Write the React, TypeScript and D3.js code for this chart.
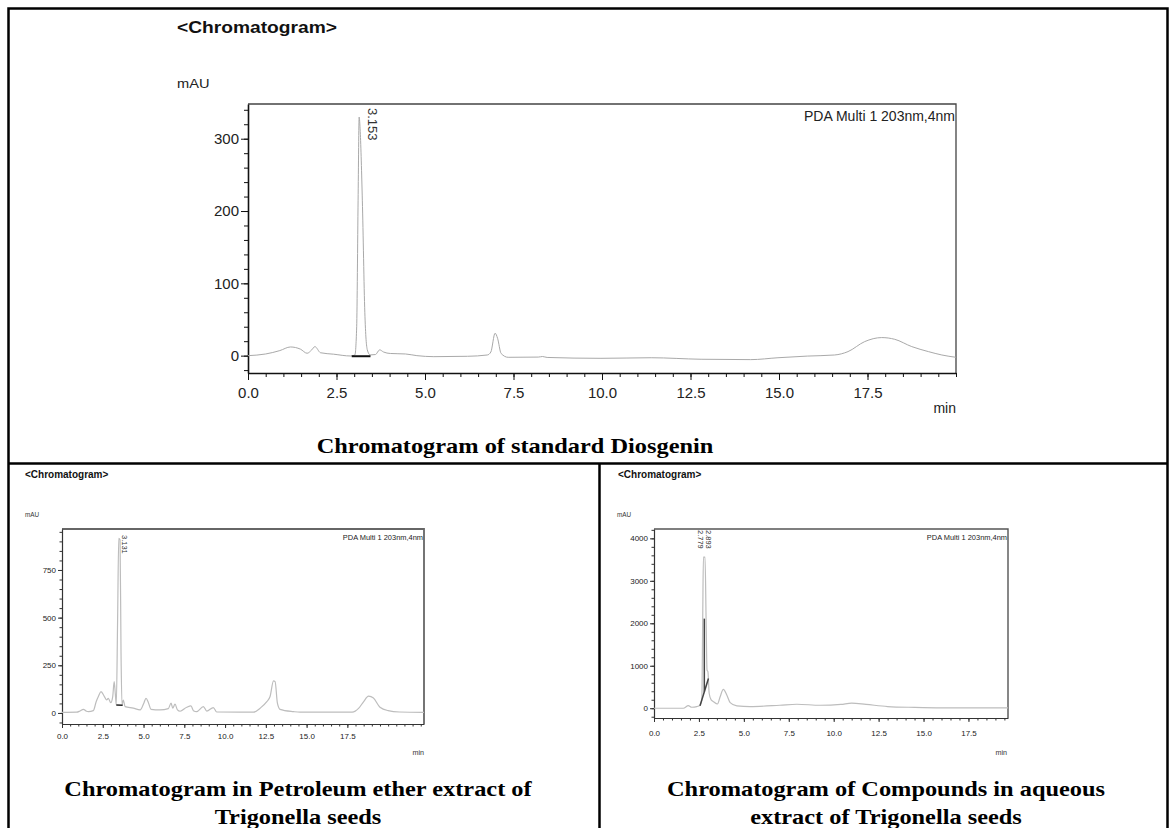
import React, { useRef, useEffect } from 'react';
import * as d3 from 'd3';

type Pt = [number, number];

// retention time (min) vs signal (mAU)
const diosgeninTrace: Pt[] = [
  [0, 0], [0.5, 2.3], [0.9, 7], [1.2, 12], [1.48, 9], [1.67, 3.3], [1.8, 8], [1.89, 12.5],
  [2.05, 4], [2.42, 2], [2.9, -0.5], [3.02, 1], [3.07, 40], [3.11, 215], [3.14, 330],
  [3.17, 310], [3.23, 215], [3.3, 60], [3.37, 8], [3.45, 1], [3.6, 1.5], [3.72, 8],
  [3.83, 5], [4.02, 3], [4.45, 2.3], [4.77, 0], [5.25, -1.4], [6.2, -0.9], [6.76, 0.9],
  [6.86, 5], [6.98, 31], [7.05, 24], [7.15, 3], [7.35, -2.3], [8.2, -2], [8.32, -1.2],
  [8.45, -2.5], [9.97, -3.7], [11.39, -2.9], [12.8, -5], [14.2, -5.5], [14.97, -2.9],
  [15.8, -0.6], [16.57, 0.9], [16.95, 5.6], [17.42, 19.4], [17.9, 25], [18.27, 22.6],
  [18.75, 12.5], [19.22, 5.6], [19.6, 0.9], [20, -2.3],
];
const diosgeninBaseline: Pt[] = [[2.93, -0.8], [3.46, -0.8]];

const petEtherTrace: Pt[] = [
  [0, 3], [0.9, 4], [1.1, 10], [1.31, 19], [1.5, 9], [1.62, 7], [1.92, 12], [2.1, 60],
  [2.23, 86], [2.39, 112], [2.6, 86], [2.74, 68], [2.84, 77], [2.99, 54], [3.11, 86],
  [3.2, 164], [3.27, 100], [3.33, 42], [3.41, 488], [3.48, 916], [3.56, 907], [3.62, 313],
  [3.68, 42], [3.76, 68], [3.87, 33], [4.37, 25], [4.79, 16], [5.03, 54], [5.15, 77],
  [5.3, 54], [5.46, 19], [6.01, 16], [6.52, 23], [6.69, 51], [6.79, 25], [6.93, 46],
  [7.08, 16], [7.24, 9], [7.65, 30], [7.91, 37], [8.06, 12], [8.26, 7], [8.67, 33],
  [8.88, 10], [9.28, 28], [9.49, 5], [11.74, 4], [12.15, 25], [12.56, 59], [12.76, 86],
  [12.97, 168], [13.07, 164], [13.21, 51], [13.37, 19], [14.19, 7], [14.6, 4], [17.8, 4],
  [18.2, 25], [18.5, 60], [18.8, 88], [19.1, 78], [19.5, 30], [20, 12], [20.7, 5], [22.2, 3],
];
const petEtherBaseline: Pt[] = [[3.33, 42], [3.72, 40]];

const aqueousTrace: Pt[] = [
  [0, 0], [1.63, 0], [1.91, 61], [2.1, 23], [2.38, 38], [2.56, 70], [2.66, 195],
  [2.71, 2070], [2.75, 3560], [2.84, 3560], [2.9, 2070], [2.95, 900], [3.0, 860],
  [3.07, 352], [3.18, 195], [3.31, 155], [3.53, 100], [3.68, 272], [3.86, 445],
  [4.05, 312], [4.24, 131], [4.61, 54], [5.35, 38], [7.0, 70], [7.95, 94], [9.25, 70],
  [10.4, 90], [11.0, 120], [11.8, 90], [13.0, 40], [14.5, 20], [16, 10], [19.7, 10],
];
const aqueousBaseline: Pt[] = [[2.56, 60], [3.03, 700]];
const aqueousDropLine: Pt[] = [[2.8, 2110], [2.8, 390]];

const timeTicks = [0, 2.5, 5, 7.5, 10, 12.5, 15, 17.5];
const diosgeninTicks = [0, 100, 200, 300];
const petEtherTicks = [0, 250, 500, 750];
const aqueousTicks = [0, 1000, 2000, 3000, 4000];

const diosgeninPeaks = [{ time: 3.14, label: '3.153', dx: 13 }];
const petEtherPeaks = [{ time: 3.5, label: '3.131', dx: 5 }];
const aqueousPeaks = [
  { time: 2.8, label: '2.779', dx: -3.5 },
  { time: 2.8, label: '2.893', dx: 4.5 },
];

const SANS = '"Liberation Sans", Arial, sans-serif';
const SERIF = '"Liberation Serif", "Times New Roman", serif';

function addText(parent, str, x, y, o: any = {}) {
  return parent
    .append('text')
    .attr('transform', `translate(${x},${y}) scale(${o.sx || 1},1)`)
    .attr('font-family', o.family || SANS)
    .attr('font-size', o.size || 12)
    .attr('font-weight', o.weight || 'normal')
    .attr('text-anchor', o.anchor || 'start')
    .attr('fill', o.fill || '#111')
    .text(str);
}

function drawChromatogram(svg, c) {
  const g = svg.append('g');
  const x = d3.scaleLinear().domain(c.xDomain).range([c.left, c.right]);
  const y = d3.scaleLinear().domain(c.yDomain).range([c.bottom, c.top]);

  g.append('path')
    .attr('d', `M${c.left},${c.top}H${c.right}V${c.bottom}`)
    .attr('fill', 'none')
    .attr('stroke', c.frameColor)
    .attr('stroke-width', c.frameWidth);

  // minor ticks
  g.append('g')
    .attr('transform', `translate(${c.left},0)`)
    .call(d3.axisLeft(y).tickValues(c.yMinor).tickSize(c.minorTick).tickFormat(() => ''))
    .call(s => s.select('.domain').remove())
    .selectAll('line').attr('stroke', c.axisColor);
  g.append('g')
    .attr('transform', `translate(0,${c.bottom})`)
    .call(d3.axisBottom(x).tickValues(c.xMinor).tickSize(c.minorTick).tickFormat(() => ''))
    .call(s => s.select('.domain').remove())
    .selectAll('line').attr('stroke', c.axisColor);

  const yAxis = g.append('g')
    .attr('transform', `translate(${c.left},0)`)
    .call(d3.axisLeft(y).tickValues(c.yTicks).tickSize(c.majorTick).tickSizeOuter(0)
      .tickPadding(c.yPad).tickFormat(d3.format('d')));
  const xAxis = g.append('g')
    .attr('transform', `translate(0,${c.bottom})`)
    .call(d3.axisBottom(x).tickValues(timeTicks).tickSize(c.majorTick).tickSizeOuter(0)
      .tickPadding(c.xPad).tickFormat(d3.format('.1f')));

  [yAxis, xAxis].forEach(a => {
    a.attr('font-family', SANS).attr('font-size', c.tickFont);
    a.select('.domain').attr('stroke', c.axisColor).attr('stroke-width', c.axisWidth);
    a.selectAll('line').attr('stroke', c.axisColor);
    a.selectAll('text').attr('fill', '#222');
  });

  const line = d3.line<Pt>().x(d => x(d[0])).y(d => y(d[1])).curve(d3.curveMonotoneX);
  g.append('path')
    .datum(c.trace)
    .attr('d', line)
    .attr('fill', 'none')
    .attr('stroke', c.traceColor)
    .attr('stroke-width', c.traceWidth);

  const straight = d3.line<Pt>().x(d => x(d[0])).y(d => y(d[1]));
  c.marks.forEach(m => {
    g.append('path')
      .datum(m)
      .attr('d', straight)
      .attr('fill', 'none')
      .attr('stroke', c.markColor)
      .attr('stroke-width', c.markWidth);
  });

  c.peaks.forEach(p => {
    g.append('text')
      .attr('transform', `translate(${x(p.time) + p.dx},${c.labelTop}) rotate(90)`)
      .attr('dominant-baseline', 'central')
      .attr('font-family', SANS)
      .attr('font-size', c.peakFont)
      .attr('fill', '#333')
      .text(p.label);
  });
}

export default function App() {
  const ref = useRef(null);

  useEffect(() => {
    const svg = d3.select(ref.current);
    svg.selectAll('*').remove();

    // table rules
    const rules = svg.append('g').attr('stroke', '#000').attr('stroke-width', 2.5).attr('fill', 'none');
    rules.append('path').attr('d', 'M8.5,840V8.5H1167.5V840');
    rules.append('path').attr('d', 'M8.5,463.5H1167.5');
    rules.append('path').attr('d', 'M599.5,463.5V840');

    // standard diosgenin
    drawChromatogram(svg, {
      left: 248, right: 956, top: 104, bottom: 373,
      xDomain: [0, 20], yDomain: [-24, 348],
      yTicks: diosgeninTicks, yMinor: d3.range(-20, 341, 20), xMinor: d3.range(0, 20.01, 0.5),
      majorTick: 7, minorTick: 4, yPad: 2, xPad: 7, tickFont: 15,
      frameColor: '#444', frameWidth: 1.3, axisColor: '#111', axisWidth: 1.6,
      trace: diosgeninTrace, traceColor: '#a9a9a9', traceWidth: 1,
      marks: [diosgeninBaseline], markColor: '#111', markWidth: 2,
      peaks: diosgeninPeaks, labelTop: 108, peakFont: 13,
    });
    addText(svg, '<Chromatogram>', 177, 33, { size: 16, weight: 'bold', sx: 1.2 });
    addText(svg, 'mAU', 177, 88, { size: 12.5, sx: 1.17, fill: '#222' });
    addText(svg, 'PDA Multi 1 203nm,4nm', 955, 120.5, { size: 14, anchor: 'end', fill: '#222' });
    addText(svg, 'min', 956, 413, { size: 14, anchor: 'end', fill: '#222' });
    addText(svg, 'Chromatogram of standard Diosgenin', 515, 453, { size: 21, weight: 'bold', family: SERIF, anchor: 'middle', sx: 1.16, fill: '#000' });

    // petroleum ether extract
    drawChromatogram(svg, {
      left: 62, right: 424, top: 529, bottom: 724,
      xDomain: [0, 22.2], yDomain: [-58, 965],
      yTicks: petEtherTicks, yMinor: d3.range(-50, 951, 50), xMinor: d3.range(0, 22.01, 0.5),
      majorTick: 4, minorTick: 2.5, yPad: 2, xPad: 5, tickFont: 8,
      frameColor: '#666', frameWidth: 1.8, axisColor: '#333', axisWidth: 1.2,
      trace: petEtherTrace, traceColor: '#bdbdbd', traceWidth: 1.2,
      marks: [petEtherBaseline], markColor: '#222', markWidth: 1.6,
      peaks: petEtherPeaks, labelTop: 535, peakFont: 7.5,
    });
    addText(svg, '<Chromatogram>', 25, 478, { size: 10, weight: 'bold' });
    addText(svg, 'mAU', 25, 517, { size: 7.5, sx: 0.85, fill: '#333' });
    addText(svg, 'PDA Multi 1 203nm,4nm', 423, 539.5, { size: 8, anchor: 'end', sx: 0.93, fill: '#222' });
    addText(svg, 'min', 424, 755, { size: 8, anchor: 'end', sx: 0.9, fill: '#333' });
    addText(svg, 'Chromatogram in Petroleum ether extract of', 298, 796, { size: 21, weight: 'bold', family: SERIF, anchor: 'middle', sx: 1.16, fill: '#000' });
    addText(svg, 'Trigonella seeds', 298, 824, { size: 21, weight: 'bold', family: SERIF, anchor: 'middle', sx: 1.16, fill: '#000' });

    // aqueous extract
    drawChromatogram(svg, {
      left: 654, right: 1008, top: 529, bottom: 718,
      xDomain: [0, 19.7], yDomain: [-230, 4220],
      yTicks: aqueousTicks, yMinor: d3.range(-200, 4201, 200), xMinor: d3.range(0, 19.51, 0.5),
      majorTick: 4, minorTick: 2.5, yPad: 2, xPad: 8, tickFont: 8,
      frameColor: '#555', frameWidth: 1.4, axisColor: '#333', axisWidth: 1.2,
      trace: aqueousTrace, traceColor: '#bdbdbd', traceWidth: 1.2,
      marks: [aqueousBaseline, aqueousDropLine], markColor: '#444', markWidth: 1.5,
      peaks: aqueousPeaks, labelTop: 530, peakFont: 7.5,
    });
    addText(svg, '<Chromatogram>', 618, 478, { size: 10, weight: 'bold' });
    addText(svg, 'mAU', 617, 517, { size: 7.5, sx: 0.85, fill: '#333' });
    addText(svg, 'PDA Multi 1 203nm,4nm', 1007, 539.5, { size: 8, anchor: 'end', sx: 0.93, fill: '#222' });
    addText(svg, 'min', 1007, 755, { size: 8, anchor: 'end', sx: 0.9, fill: '#333' });
    addText(svg, 'Chromatogram of Compounds in aqueous', 886, 796, { size: 21, weight: 'bold', family: SERIF, anchor: 'middle', sx: 1.16, fill: '#000' });
    addText(svg, 'extract of Trigonella seeds', 886, 824, { size: 21, weight: 'bold', family: SERIF, anchor: 'middle', sx: 1.16, fill: '#000' });
  }, []);

  return (
    <svg
      ref={ref}
      width={1176}
      height={828}
      style={{ position: 'absolute', left: 0, top: 0, background: '#fff' }}
    />
  );
}
